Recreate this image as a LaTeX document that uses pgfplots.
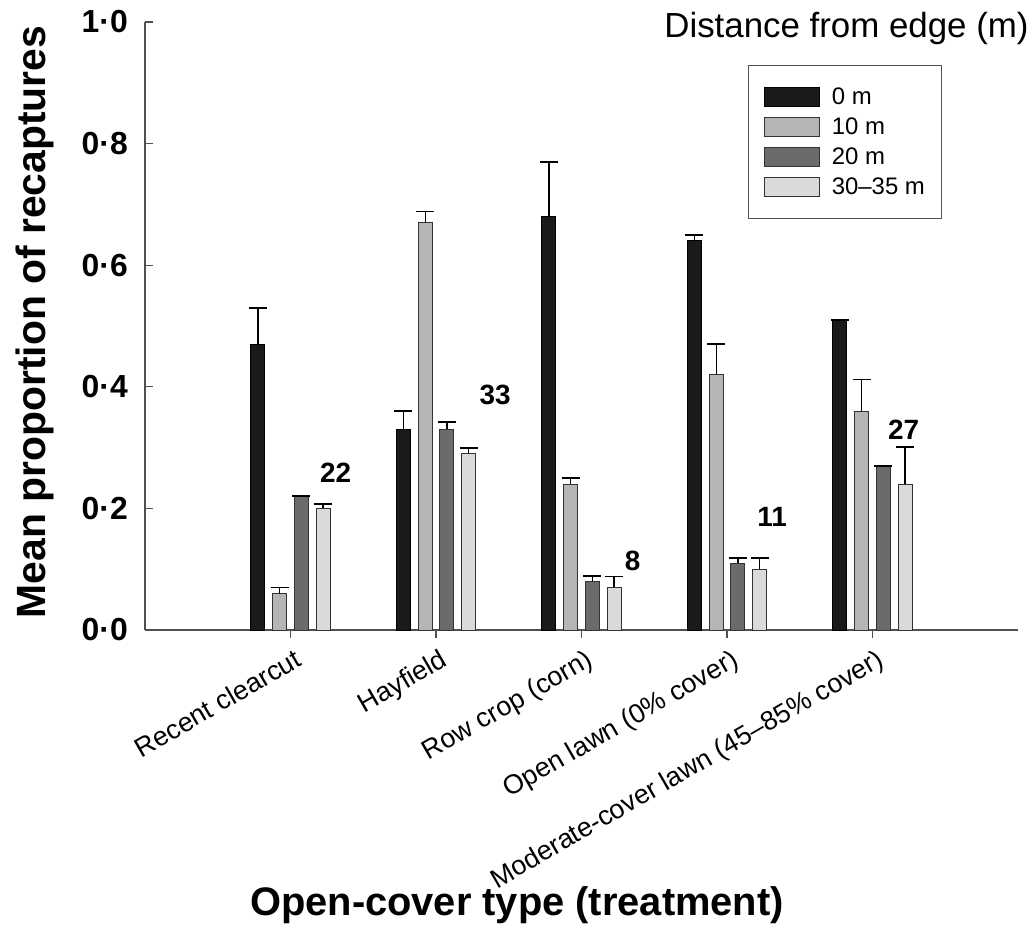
\documentclass[border=0pt]{standalone}
\usepackage{fontspec}
\setmainfont{Liberation Sans}
\usepackage{pgfplots}
\pgfplotsset{compat=1.18}
\definecolor{c0}{HTML}{1A1A1A}
\definecolor{c10}{HTML}{B5B5B5}
\definecolor{c20}{HTML}{6B6B6B}
\definecolor{c30}{HTML}{DADADA}
\definecolor{axisgray}{HTML}{505050}
\pgfplotsset{
  mylegend/.style={legend image code/.code={\draw[##1, line width=1bp] (0bp,-9.5bp) rectangle (55bp,9.5bp);}},
  myerr/.style={error bars/.cd, y dir=plus, y explicit, error mark=-,
     error bar style={line width=1.3bp, black},
     error mark options={rotate=90, line width=1.6bp, mark size=9bp, black}}
}
\pgfplotstableread{
x y e
0 0.47 0.06
1 0.33 0.03
2 0.68 0.09
3 0.64 0.01
4 0.51 0.0
}\tzero
\pgfplotstableread{
x y e
0 0.06 0.01
1 0.67 0.018
2 0.24 0.01
3 0.42 0.05
4 0.36 0.052
}\tten
\pgfplotstableread{
x y e
0 0.22 0.0
1 0.33 0.012
2 0.08 0.009
3 0.11 0.008
4 0.27 0.0
}\ttwenty
\pgfplotstableread{
x y e
0 0.20 0.007
1 0.29 0.009
2 0.07 0.018
3 0.10 0.018
4 0.24 0.061
}\tthirty
\begin{document}
\begin{tikzpicture}
\useasboundingbox (0,0) rectangle (1034bp,951bp);
\begin{axis}[
  at={(145bp,321bp)}, anchor=south west,
  scale only axis, width=873bp, height=608bp,
  xmin=-1, xmax=5, ymin=0, ymax=1,
  axis lines=left, axis line style={-, axisgray, line width=1.6bp},
  xtick={0,1,2,3,4},
  xticklabels={Recent clearcut, Hayfield, Row crop (corn), Open lawn (0\% cover), Moderate-cover lawn (45–85\% cover)},
  xticklabel style={font=\fontsize{27}{30}\selectfont, rotate=30, anchor=north east, inner sep=0pt, xshift=-2bp, yshift=-10bp},
  ytick={0,0.2,0.4,0.6,0.8,1},
  yticklabels={0·0,0·2,0·4,0·6,0·8,1·0},
  yticklabel style={font=\bfseries\fontsize{32}{36}\selectfont, inner sep=0pt, xshift=-17bp},
  major tick length=8bp,
  xtick align=outside, ytick align=inside,
  tick style={axisgray, line width=1.2bp},
  ybar=7.7bp, bar width=14bp,
  legend style={at={(rel axis cs:0.691,0.929)}, anchor=north west, draw=axisgray, line width=1.2bp,
    font=\fontsize{24}{27}\selectfont, inner xsep=15bp, inner ysep=20bp, row sep=8bp,
    /tikz/every odd column/.append style={column sep=10bp}},
  legend cell align=left,
  clip=false,
]
\addplot[fill=c0, draw=black, line width=1bp, mylegend, myerr] table[x=x, y=y, y error=e] {\tzero};
\addlegendentry{0 m}
\addplot[fill=c10, draw=black!80, line width=1bp, mylegend, myerr] table[x=x, y=y, y error=e] {\tten};
\addlegendentry{10 m}
\addplot[fill=c20, draw=black!80, line width=1bp, mylegend, myerr] table[x=x, y=y, y error=e] {\ttwenty};
\addlegendentry{20 m}
\addplot[fill=c30, draw=black!80, line width=1bp, mylegend, myerr] table[x=x, y=y, y error=e] {\tthirty};
\addlegendentry{30–35 m}
\node[font=\bfseries\fontsize{28}{30}\selectfont] at (axis cs:0.31,0.258) {22};
\node[font=\bfseries\fontsize{28}{30}\selectfont] at (axis cs:1.407,0.386) {33};
\node[font=\bfseries\fontsize{28}{30}\selectfont] at (axis cs:2.352,0.114) {8};
\node[font=\bfseries\fontsize{28}{30}\selectfont] at (axis cs:3.31,0.186) {11};
\node[font=\bfseries\fontsize{28}{30}\selectfont] at (axis cs:4.214,0.33) {27};
\end{axis}
\node[font=\fontsize{35}{38}\selectfont, anchor=base] at (846.5bp,913bp) {Distance from edge (m)};
\node[font=\bfseries\fontsize{41}{44}\selectfont, rotate=90] at (35bp,629bp) {Mean proportion of recaptures};
\node[font=\bfseries\fontsize{40}{44}\selectfont] at (517bp,46bp) {Open-cover type (treatment)};
\end{tikzpicture}
\end{document}
